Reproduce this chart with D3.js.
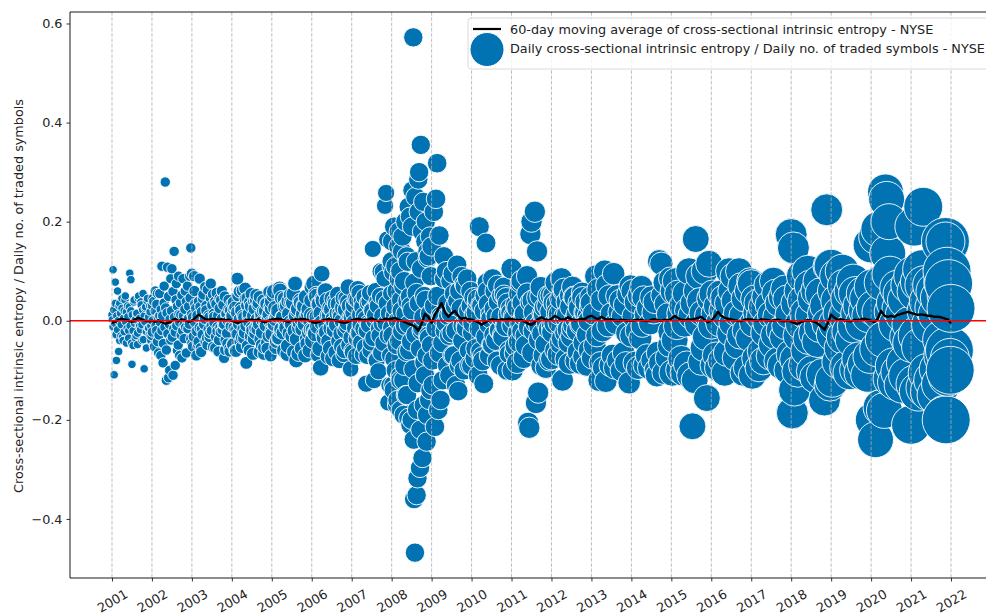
<!DOCTYPE html>
<html><head><meta charset="utf-8">
<script src="https://cdn.jsdelivr.net/npm/d3@7"></script>
<style>body{margin:0;background:#fff}svg{display:block;font-family:"DejaVu Sans",sans-serif}</style>
</head><body><svg id="c" width="986" height="615"></svg>
<script>
const years = [2001,2002,2003,2004,2005,2006,2007,2008,2009,2010,2011,2012,2013,2014,2015,2016,2017,2018,2019,2020,2021];
const tickYears = [2001,2002,2003,2004,2005,2006,2007,2008,2009,2010,2011,2012,2013,2014,2015,2016,2017,2018,2019,2020,2021,2022];
const yTicks = [-0.4,-0.2,0.0,0.2,0.4,0.6];
// marker size variable per year (seaborn "size" semantic)
const sizeVar = [18,27,32,42,56,69,74,94,96,100,114,121,128,137,182,182,196,256,289,324,380];
const finalSize = 576;
const legendSize = 289;

// daily values (sampled), main samples per year
const y2001 = [0.012,0.103,-0.109,0.078,-0.08,0.06,-0.062,0.035,-0.03,0.045,-0.04,0.02,0.05,-0.045,0.03,-0.02,0.096,0.083,-0.088,-0.05,0.042,-0.035,0.015,-0.048,0.05,-0.01,0.038,-0.04,0.055,-0.097,0.025,-0.055,0.045,-0.015,0.03,-0.04];
const y2002 = [-0.03,0.045,-0.05,0.06,-0.02,0.055,-0.065,0.01,-0.07,0.11,-0.085,0.07,0.28,-0.12,0.108,-0.115,-0.1,0.085,0.105,-0.11,0.14,-0.09,0.075,-0.06,0.09,-0.07,0.012,-0.075,0.085,-0.008,0.06,-0.065,0.07,0.005,0.09,0.147];
const y2003 = [0.095,-0.052,0.09,0.034,-0.07,0.008,-0.042,0.085,-0.055,-0.016,0.045,-0.003,0.068,0.03,-0.049,0.011,-0.033,0.075,-0.02,0.053,0.008,-0.055,0.034,-0.013,-0.062,0.045,-0.023,0.06,-0.007,-0.075,-0.059,0.011,-0.046,0.023,-0.062,-0.003];
const y2004 = [0.007,-0.046,0.023,-0.06,-0.018,0.085,-0.004,0.059,0.026,-0.053,0.01,-0.035,0.065,-0.085,0.046,0.007,-0.06,0.029,-0.014,-0.067,0.039,-0.025,0.052,-0.007,0.036,-0.063,0.01,-0.049,0.02,-0.067,-0.004,0.036,-0.056,0.013,0.029,-0.07];
const y2005 = [0.039,-0.004,0.059,0.026,-0.053,0.01,-0.035,0.065,-0.021,0.046,0.007,-0.06,0.029,-0.014,-0.067,0.039,-0.025,0.052,-0.007,0.036,-0.063,0.075,-0.08,0.02,-0.067,-0.004,0.036,-0.056,0.013,0.029,-0.07,0.007,-0.046,0.023,-0.06,-0.018];
const y2006 = [0.011,-0.04,0.075,-0.024,0.053,0.008,-0.068,0.034,-0.095,0.095,0.045,-0.028,0.06,-0.008,0.041,-0.072,0.011,-0.056,0.023,-0.076,-0.004,0.041,-0.064,0.015,0.034,-0.08,0.008,-0.052,0.026,-0.068,-0.02,0.045,-0.004,0.068,0.03,-0.097];
const y2007 = [0.007,-0.064,0.032,-0.015,-0.071,0.042,-0.026,0.056,-0.008,0.039,-0.068,0.011,-0.053,-0.127,-0.071,-0.004,0.039,-0.06,0.022,0.145,-0.12,0.011,-0.078,0.039,-0.102,-0.03,0.1,-0.006,0.099,0.044,0.232,0.258,0.164,-0.165,-0.13,0.11];
const y2008 = [0.12,-0.03,-0.13,0.19,0.01,-0.1,0.06,-0.16,0.15,-0.04,0.1,-0.18,0.02,0.17,-0.12,0.08,-0.01,-0.15,0.13,0.04,-0.196,-0.06,0.21,0.03,-0.2,0.263,0.572,-0.36,-0.468,0.12,-0.352,-0.318,0.285,0.3,-0.297,0.355,-0.02,-0.277,0.24,0.05,-0.11,0.2,-0.244,0.14,-0.03,-0.16,0.17,0.09];
const y2009 = [0.15,-0.13,0.22,-0.214,0.246,0.318,-0.18,0.172,-0.16,0.005,-0.12,0.13,-0.02,0.1,-0.09,0.01,-0.11,0.08,-0.025,0.095,-0.07,0.03,-0.13,0.113,-0.142,0.06,-0.08,0.09,-0.01,-0.1,0.07,-0.015,0.085,0.02,-0.09,0.06];
const y2010 = [-0.09,-0.005,0.047,-0.076,0.017,0.038,-0.11,0.19,-0.062,0.03,-0.081,-0.127,0.051,0.157,0.077,0.034,-0.071,0.013,-0.048,0.085,-0.029,0.06,0.009,-0.081,0.038,-0.019,-0.09,0.051,-0.033,0.068,-0.01,0.047,-0.1,0.013,-0.067,0.026];
const y2011 = [0.105,-0.1,0.009,-0.065,0.032,-0.085,-0.025,0.054,-0.005,0.081,0.036,-0.075,0.014,-0.05,0.09,-0.206,-0.216,0.175,0.2,0.041,-0.02,0.22,-0.166,0.14,-0.145,-0.01,0.05,-0.09,0.014,-0.07,0.027,-0.095,-0.005,0.05,-0.08,0.018];
const y2012 = [-0.077,-0.023,0.051,-0.005,0.077,0.034,-0.068,0.013,-0.045,0.085,-0.12,0.06,0.009,-0.077,0.038,-0.018,-0.086,0.051,-0.032,0.068,-0.009,0.047,-0.081,0.013,-0.063,0.026,-0.086,-0.005,0.047,-0.072,0.017,0.038,-0.09,0.009,-0.059,0.03];
const y2013 = [0.036,-0.075,0.014,-0.05,0.09,-0.03,0.063,-0.12,-0.085,0.041,-0.02,-0.095,0.1,-0.122,0.072,-0.01,0.05,-0.09,0.014,-0.07,0.095,-0.095,-0.005,0.05,-0.08,0.018,0.041,-0.1,0.009,-0.065,0.032,-0.085,-0.025,0.054,-0.125,0.07];
const y2014 = [-0.03,0.06,0.009,-0.085,0.038,-0.02,-0.095,0.051,-0.035,0.068,-0.01,0.047,-0.09,0.013,-0.07,0.026,-0.095,-0.005,0.047,-0.08,0.017,0.038,-0.1,-0.11,-0.065,0.12,-0.085,0.115,0.051,-0.105,0.077,0.034,-0.075,0.013,-0.05,0.085];
const y2015 = [-0.022,-0.105,0.06,-0.039,0.08,-0.011,0.055,-0.099,0.015,-0.077,0.03,-0.105,-0.006,0.055,-0.088,0.02,0.1,-0.11,0.01,-0.213,0.035,-0.12,0.165,0.06,-0.006,0.09,0.04,-0.083,0.015,-0.055,0.1,-0.033,-0.156,0.01,0.115,0.045];
const y2016 = [-0.01,0.055,-0.09,0.015,-0.07,0.03,-0.095,-0.005,0.055,-0.08,0.02,0.045,-0.105,0.01,-0.065,0.035,0.1,-0.025,0.06,-0.005,0.09,0.04,-0.075,0.015,-0.05,0.1,-0.03,0.07,0.01,-0.105,0.045,-0.02,-0.095,0.06,-0.035,0.08];
const y2017 = [0.075,-0.11,-0.005,0.044,-0.076,0.016,0.036,-0.095,0.008,-0.062,0.028,-0.081,-0.024,0.048,-0.005,0.072,0.032,-0.071,0.012,-0.048,0.08,-0.029,0.056,0.008,-0.081,0.036,-0.019,-0.09,0.048,-0.033,0.064,-0.01,0.044,-0.1,0.012,-0.067];
const y2018 = [0.174,-0.186,0.147,-0.14,-0.078,0.035,-0.102,-0.03,0.06,-0.006,0.09,0.04,-0.09,0.015,-0.06,0.1,-0.036,0.07,0.01,-0.102,0.045,-0.024,-0.114,0.06,-0.042,0.08,-0.012,0.055,-0.108,0.015,-0.16,0.03,0.224,-0.006,0.11,-0.13];
const y2019 = [0.11,-0.12,-0.028,0.06,-0.006,0.09,0.04,-0.083,0.015,-0.055,0.1,-0.033,0.07,0.01,-0.094,0.045,-0.022,-0.105,0.06,-0.039,0.08,-0.011,0.055,-0.099,0.015,-0.077,0.03,-0.105,-0.006,0.055,-0.088,0.02,0.045,-0.11,0.01,-0.072];
const y2020 = [0.153,0.068,-0.2,0.026,-0.24,0.17,-0.057,0.185,0.017,-0.175,0.077,-0.038,-0.181,0.26,0.245,0.136,0.2,0.094,-0.117,0.018,-0.091,0.036,-0.124,-0.007,0.066,-0.104,0.024,0.054,-0.13,0.012,-0.085,0.042,-0.111,-0.033,0.072,-0.007];
const y2021 = [-0.21,-0.045,0.091,0.19,-0.128,0.059,-0.03,-0.143,0.078,-0.053,0.104,0.23,0.072,-0.135,0.02,-0.105,0.039,-0.143,-0.008,0.072,-0.12,0.026,0.059,-0.15,0.013,-0.098,0.046,-0.128,-0.038,0.078,-0.19,0.16,0.052,-0.113,0.02,-0.075];
const finalDates = [2021.86,2021.88,2021.9,2021.92,2021.94,2021.96,2021.98,2022.0];
const finalValues = [0.16,-0.2,0.1,-0.07,0.075,-0.06,-0.1,0.025];

// additional daily samples inside the dense band (placed between the main samples)
const f2001 = [0.002,-0.012,0.022,-0.005,0.035,-0.028,0.01,-0.018,0.0,0.03,-0.04,0.015,-0.008,0.025,-0.032,0.005,-0.022,0.042,-0.002,0.018,-0.015,0.008,-0.035,0.028,-0.01,0.02,-0.045,0.012,-0.02,0.038,-0.005,0.002,-0.03,0.015,-0.025,0.045,-0.012,0.005,-0.018,0.032,-0.008,0.022,-0.038,0.01,-0.002,0.028,-0.022,0.04,-0.015,0.008,-0.028,0.018,-0.01,0.03];
const f2002 = [-0.023,0.0,0.039,-0.052,0.02,-0.01,0.033,-0.042,0.007,-0.029,0.055,-0.003,0.023,-0.02,0.01,-0.046,0.036,-0.013,0.026,-0.059,0.016,-0.026,0.049,-0.007,0.003,-0.039,0.02,-0.033,0.059,-0.016,0.007,-0.023,0.042,-0.01,0.029,-0.049,0.013,-0.003,0.036,-0.029,0.052,-0.02,0.01,-0.036,0.023,-0.013,0.039,0.003,-0.016,0.029,-0.007,0.046,-0.036,0.013];
const f2003 = [-0.046,0.007,-0.032,0.06,-0.004,0.025,-0.021,0.011,-0.049,0.039,-0.014,0.028,-0.063,0.018,-0.028,0.053,-0.007,0.004,-0.042,0.021,-0.035,0.063,-0.018,0.007,-0.025,0.046,-0.011,0.032,-0.053,0.014,-0.004,0.039,-0.032,0.056,-0.021,0.011,-0.039,0.025,-0.014,0.042,0.004,-0.018,0.032,-0.007,0.049,-0.039,0.014,-0.025,0.0,0.042,-0.056,0.021,-0.011,0.035];
const f2004 = [0.01,-0.048,0.037,-0.014,0.027,-0.061,0.017,-0.027,0.051,-0.007,0.003,-0.041,0.02,-0.034,0.061,-0.017,0.007,-0.024,0.044,-0.01,0.031,-0.051,0.014,-0.003,0.037,-0.031,0.054,-0.02,0.01,-0.037,0.024,-0.014,0.041,0.003,-0.017,0.031,-0.007,0.048,-0.037,0.014,-0.024,0.0,0.041,-0.054,0.02,-0.01,0.034,-0.044,0.007,-0.031,0.058,-0.003,0.024,-0.02];
const f2005 = [-0.027,0.051,-0.007,0.003,-0.041,0.02,-0.034,0.061,-0.017,0.007,-0.024,0.044,-0.01,0.031,-0.051,0.014,-0.003,0.037,-0.031,0.054,-0.02,0.01,-0.037,0.024,-0.014,0.041,0.003,-0.017,0.031,-0.007,0.048,-0.037,0.014,-0.024,0.0,0.041];
const f2006 = [0.068,-0.019,0.008,-0.026,0.049,-0.011,0.034,-0.056,0.015,-0.004,0.041,-0.034,0.06,-0.023,0.011,-0.041,0.026,-0.015,0.045,0.004,-0.019,0.034,-0.008,0.053,-0.041,0.015,-0.026,0.0,0.045,-0.06,0.023,-0.011,0.038,-0.049,0.008,-0.034];
const f2007 = [-0.06,0.016,-0.004,0.044,-0.036,0.064,-0.024,0.012,-0.044,0.028,-0.016,0.048,0.004,-0.02,0.036,-0.008,0.056,-0.044,0.02,-0.035,0.0,0.06,-0.08,0.03,-0.015,0.05,-0.065,0.01,-0.045,0.085,-0.005,0.035,-0.03,0.015,-0.07,0.055];
const f2008 = [-0.014,0.098,-0.077,0.028,-0.049,0.0,0.084,-0.112,0.042,-0.021,0.07,-0.091,0.014,-0.063,0.119,-0.007,0.049,-0.042,0.021,-0.098,0.077,-0.028,0.056,-0.126,0.035,-0.056,0.105,-0.014,0.007,-0.084,0.042,-0.07,0.126,-0.035,0.014,-0.049];
const g2008 = [0.16,-0.14,0.11,-0.17,0.18,-0.12,0.14,-0.19,0.2,-0.15,0.23,-0.21,0.19,-0.24,0.25,-0.18,0.22,-0.22,0.18,-0.17,0.16,-0.19,0.13,-0.14];
const f2009 = [-0.08,0.03,-0.015,0.05,-0.065,0.01,-0.045,0.085,-0.005,0.035,-0.03,0.015,-0.07,0.055,-0.02,0.04,-0.09,0.025,-0.04,0.075,-0.01,0.005,-0.06,0.03];
const f2010 = [-0.024,0.012,-0.056,0.044,-0.016,0.032,-0.072,0.02,-0.032,0.06,-0.008,0.004,-0.048,0.024,-0.04,0.072,-0.02,0.008,-0.028,0.052,-0.012,0.036,-0.06,0.016];
const f2011 = [-0.009,0.004,-0.051,0.026,-0.043,0.077,-0.021,0.009,-0.03,0.055,-0.013,0.038,-0.064,0.017,-0.004,0.047,-0.038,0.068,-0.026,0.013,-0.047,0.03,-0.017,0.051];
const f2012 = [-0.012,0.036,-0.06,0.016,-0.004,0.044,-0.036,0.064,-0.024,0.012,-0.044,0.028,-0.016,0.048,0.004,-0.02,0.036,-0.008,0.056,-0.044,0.016,-0.028,0.0,0.048];

// 60-day moving average, monthly samples from Jan 2001
const maValues = [
-0.004,-0.002,0.002,0.004,0.002,0.0,-0.002,0.003,0.006,0.003,0.0,-0.001,
0.0,-0.002,0.001,-0.003,-0.006,-0.004,0.0,0.004,-0.001,0.003,0.001,-0.002,
0.0,0.006,0.012,0.008,0.003,0.002,0.004,0.003,0.002,0.003,0.001,0.002,
0.0,-0.003,-0.004,-0.001,0.0,0.002,0.002,0.001,0.003,-0.001,-0.003,0.0,
0.002,0.003,0.004,0.002,0.0,-0.002,0.001,0.003,0.002,0.004,0.003,0.001,
-0.002,-0.004,-0.003,0.0,0.002,0.003,0.002,0.001,-0.001,-0.003,-0.004,-0.002,
0.001,0.003,0.004,0.002,0.001,0.003,0.005,0.002,-0.001,0.001,0.004,0.003,
0.004,0.006,0.002,0.0,-0.003,-0.006,-0.008,-0.012,-0.02,-0.006,0.014,0.008,
-0.004,0.012,0.024,0.036,0.016,0.008,0.015,0.02,0.01,0.004,0.006,0.003,
0.002,0.0,-0.003,-0.008,-0.004,0.0,0.003,0.002,0.001,0.003,0.002,0.004,
0.003,0.002,0.001,0.002,-0.002,-0.006,-0.008,-0.003,0.004,0.007,0.003,0.001,
0.004,0.01,0.006,0.002,0.003,0.007,0.003,0.001,0.002,0.004,0.003,0.008,
0.01,0.006,0.003,0.008,0.004,0.002,0.003,0.001,0.0,0.002,0.001,0.0,
0.0,0.001,0.002,0.001,0.0,-0.001,0.002,0.003,0.001,0.0,0.002,0.001,
0.004,0.01,0.005,0.002,0.001,0.003,0.002,0.004,0.006,0.008,0.002,-0.003,
0.0,0.008,0.018,0.01,0.006,0.004,0.003,0.001,0.0,-0.001,0.002,0.003,
0.002,0.001,0.0,0.003,0.002,0.001,0.0,0.001,0.002,0.0,-0.001,0.001,
-0.002,-0.005,-0.006,-0.003,0.0,0.001,0.0,-0.002,-0.006,-0.012,-0.018,-0.004,
0.012,0.006,0.002,0.003,0.001,0.0,-0.001,0.002,0.001,0.003,0.004,0.002,
0.0,-0.002,0.004,0.02,0.01,0.008,0.01,0.008,0.012,0.014,0.016,0.018,
0.016,0.014,0.012,0.013,0.012,0.01,0.01,0.008,0.008,0.007,0.005,0.003,
-0.005];
const maStart = 2001;

const legendLabels = ["60-day moving average of cross-sectional intrinsic entropy - NYSE",
  "Daily cross-sectional intrinsic entropy / Daily no. of traded symbols - NYSE"];
const yLabel = "Cross-sectional intrinsic entropy / Daily no. of traded symbols";

const yearGroups = [y2001,y2002,y2003,y2004,y2005,y2006,y2007,y2008,y2009,y2010,y2011,y2012,y2013,y2014,y2015,y2016,y2017,y2018,y2019,y2020,y2021];
const fillGroups = [f2001,f2002,f2003,f2004,f2005,f2006,f2007,f2008,f2009,f2010,f2011,f2012];

const L = 70, R = 990, T = 12, B = 578;
const FS = 12.8;
const blue = "#0173b2";
const svg = d3.select("#c");
const x = d3.scaleLinear().domain([1999.949, 2022.976]).range([L, R]);
const y = d3.scaleLinear().domain([-0.5192, 0.6232]).range([B, T]);
const r = d3.scaleSqrt().domain([0, 576]).range([0, 24]);

const points = [];
yearGroups.forEach((vals, gi) => vals.forEach((v, i) => points.push({t: years[gi] + i / vals.length, v, s: sizeVar[gi]})));
fillGroups.forEach((vals, gi) => vals.forEach((v, i) => points.push({t: years[gi] + (i + 0.5) / vals.length, v, s: sizeVar[gi]})));
g2008.forEach((v, i) => points.push({t: 2008 + (i + 0.25) / g2008.length, v, s: sizeVar[7]}));
finalValues.forEach((v, i) => points.push({t: finalDates[i], v, s: finalSize}));
points.sort((a, b) => a.t - b.t);

svg.append("defs").append("clipPath").attr("id","clip").append("rect")
  .attr("x", L).attr("y", T).attr("width", R - L).attr("height", B - T);

const plot = svg.append("g").attr("clip-path","url(#clip)");
plot.selectAll("circle.pt").data(points).join("circle").attr("class","pt")
  .attr("cx", d => x(d.t)).attr("cy", d => y(d.v)).attr("r", d => r(d.s))
  .attr("fill", blue).attr("stroke", "#fff").attr("stroke-width", 0.9);

// grid
plot.selectAll("line.grid").data(tickYears).join("line").attr("class","grid")
  .attr("x1", d => x(d)).attr("x2", d => x(d)).attr("y1", T).attr("y2", B)
  .attr("stroke", "#b0b0b0").attr("stroke-width", 0.8).attr("stroke-dasharray", "3.7,1.6");

// moving average
const line = d3.line().x((d, i) => x(maStart + i / 12)).y(d => y(d));
plot.append("path").datum(maValues).attr("d", line).attr("fill","none")
  .attr("stroke","#000").attr("stroke-width",2.4).attr("stroke-linejoin","round");

// zero line
plot.append("line").attr("x1", L).attr("x2", R).attr("y1", y(0)).attr("y2", y(0))
  .attr("stroke", "#ff0000").attr("stroke-width", 1.5);

// axes
const xAxis = svg.append("g").attr("transform", `translate(0,${B})`)
  .call(d3.axisBottom(x).tickValues(tickYears).tickFormat(d3.format("d")).tickSize(3.5).tickPadding(3));
xAxis.select(".domain").remove();
xAxis.selectAll(".tick line").attr("stroke","#000").attr("stroke-width",0.8);
xAxis.selectAll(".tick text").attr("y", 0).attr("dy", null)
  .attr("transform", "translate(0,23) rotate(-30)")
  .attr("text-anchor","middle").attr("dominant-baseline","central")
  .attr("font-size", FS).attr("fill","#222").attr("font-family","DejaVu Sans");

const yAxis = svg.append("g").attr("transform", `translate(${L},0)`)
  .call(d3.axisLeft(y).tickValues(yTicks).tickFormat(d3.format(".1f")).tickSize(3.5).tickPadding(4));
yAxis.select(".domain").remove();
yAxis.selectAll(".tick line").attr("stroke","#000").attr("stroke-width",0.8);
yAxis.selectAll(".tick text").attr("font-size", FS).attr("fill","#222").attr("font-family","DejaVu Sans");

// spines
svg.append("line").attr("x1", L).attr("x2", L).attr("y1", T).attr("y2", B).attr("stroke","#000").attr("stroke-width",0.9);
svg.append("line").attr("x1", L).attr("x2", R).attr("y1", B).attr("y2", B).attr("stroke","#000").attr("stroke-width",0.9);
svg.append("line").attr("x1", L).attr("x2", R).attr("y1", T).attr("y2", T).attr("stroke","#000").attr("stroke-width",0.9);

// y label
svg.append("text").attr("transform", "translate(18,296) rotate(-90)")
  .attr("text-anchor","middle").attr("dominant-baseline","central")
  .attr("font-size", FS).attr("fill","#222").text(yLabel);

// legend
const lg = svg.append("g");
lg.append("rect").attr("x", 468).attr("y", 18).attr("width", 540).attr("height", 51).attr("rx", 3)
  .attr("fill","#fff").attr("fill-opacity",0.8).attr("stroke","#d0d0d0").attr("stroke-width",0.8);
lg.append("line").attr("x1", 473).attr("x2", 501).attr("y1", 29).attr("y2", 29).attr("stroke","#000").attr("stroke-width",2.2);
lg.append("circle").attr("cx", 487).attr("cy", 49.5).attr("r", r(legendSize)).attr("fill", blue).attr("stroke","#fff").attr("stroke-width",1);
lg.selectAll("text").data(legendLabels).join("text")
  .attr("x", 510).attr("y", (d, i) => 29 + i * 19.5).attr("dominant-baseline","central")
  .attr("font-size", FS).attr("fill","#222").text(d => d);
</script></body></html>
